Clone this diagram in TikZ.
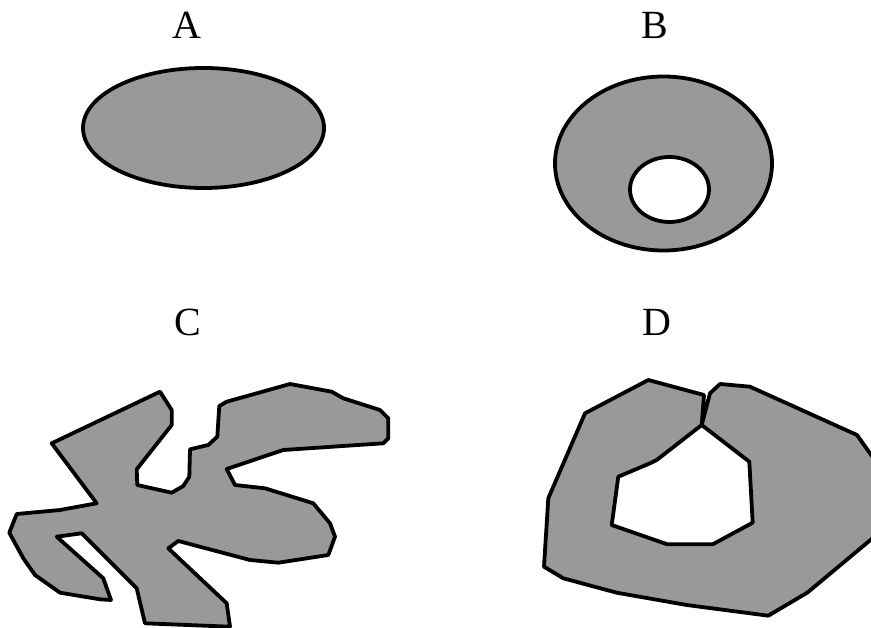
\documentclass[tikz,border=0pt]{standalone}
\usepackage{fontspec}
\setmainfont{Liberation Serif}
\tikzset{
  region/.style={draw=black, fill=regiongray, line width=3.8pt, line join=round},
  hole/.style={draw=black, fill=white, line width=3.8pt, line join=round},
  lbl/.style={font=\fontsize{40}{40}\selectfont, anchor=base, inner sep=0pt}
}
\definecolor{regiongray}{RGB}{153,153,153}
\begin{document}
\begin{tikzpicture}[x=1pt,y=-1pt]
\useasboundingbox (0,0) rectangle (871,628);
\clip (0,0) rectangle (871,628);
% labels
\node[lbl] (la) at (186.5,38.3) {A};
\node[lbl] (lb) at (655,38.3) {B};
\node[lbl] (lc) at (188,336) {C};
\node[lbl] (ld) at (657,336) {D};
% A
\draw[region] (203.5,128) ellipse [x radius=120.5, y radius=60];
% B
\draw[region] (663.5,163.5) ellipse [x radius=108.5, y radius=87];
\draw[hole] (669.5,189.5) ellipse [x radius=39.5, y radius=32.5];
% C
\draw[region] (160,391.7) -- (171.7,410) -- (171.7,425) -- (136.7,469.3) -- (137.3,485)
  -- (171.7,492.7) -- (183.3,486) -- (189.3,476.7) -- (190,449.3) -- (208.3,445)
  -- (217.3,436.7) -- (219.3,406) -- (226.7,401.7) -- (290,384) -- (331.7,391.7)
  -- (343.3,398.3) -- (380,410) -- (388.3,418.3) -- (388.3,438.3) -- (383.3,443.3)
  -- (283.3,450) -- (226.7,469) -- (235,485) -- (265,488.3) -- (313.3,503.3)
  -- (330,523.3) -- (335,536.7) -- (328.3,555) -- (278.3,562.7) -- (250,560)
  -- (178.3,541) -- (168.3,548.3) -- (226.7,603.3) -- (230,626.7) -- (145,623.3)
  -- (136.7,588.3) -- (81.7,533.3) -- (56.7,536.7) -- (103.3,578.3) -- (111,600)
  -- (100,599.3) -- (60,592.7) -- (35,575) -- (23.3,558.3) -- (9.3,532.7)
  -- (16.7,514) -- (60,510) -- (96.7,503.3) -- (51.7,443.3) -- cycle;
% D
\draw[region] (704,395) -- (648.3,380) -- (585,413.3) -- (548.3,498.3) -- (544,566.7)
  -- (563.3,578.3) -- (616.7,592.7) -- (686.7,605) -- (768.3,615.7) -- (807.5,592.5)
  -- (908.8,508) -- (857,435) -- (750,386.7) -- (720,384) -- (710,393.3)
  -- (701.7,425) -- (749.3,461.7) -- (752.7,522.7) -- (712.7,544.3) -- (667.3,544.3)
  -- (611.7,525) -- (618.3,476.7) -- (650,463.3) -- (656.7,460) -- (701.7,425) -- cycle;
\end{tikzpicture}
\end{document}
